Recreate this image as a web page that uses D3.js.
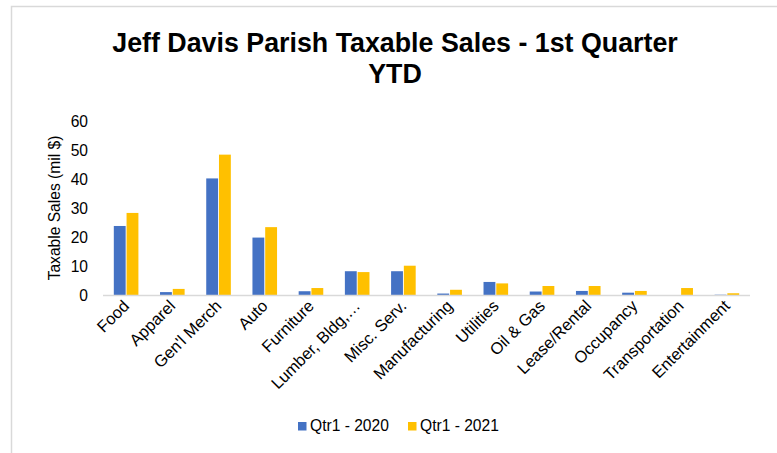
<!DOCTYPE html>
<html><head><meta charset="utf-8">
<script src="https://cdn.jsdelivr.net/npm/d3@7"></script>
<style>body{margin:0;background:#fff}svg{display:block;font-family:"Liberation Sans",Arial,sans-serif}</style>
</head><body>
<svg id="c" width="777" height="453"></svg>
<script>
const categories = ["Food","Apparel","Gen'l Merch","Auto","Furniture","Lumber, Bldg,…","Misc. Serv.","Manufacturing","Utilities","Oil & Gas","Lease/Rental","Occupancy","Transportation","Entertainment"];
const seriesNames = ["Qtr1 - 2020","Qtr1 - 2021"];
const q2020 = [23.8,1.0,40.2,19.8,1.3,8.2,8.2,0.5,4.5,1.2,1.4,0.8,0,0.1];
const q2021 = [28.3,2.1,48.4,23.4,2.4,7.9,10.1,1.8,4.0,3.1,3.1,1.4,2.4,0.6];
const yTicks = [0,10,20,30,40,50,60];
const colors = ["#4472C4","#FFC000"];
const titleLines = ["Jeff Davis Parish Taxable Sales - 1st Quarter","YTD"];
const yTitle = "Taxable Sales (mil $)";

const svg = d3.select("#c");
svg.append("rect").attr("x",11.5).attr("y",6.5).attr("width",820).attr("height",520)
  .attr("fill","#fff").attr("stroke","#d9d9d9").attr("stroke-width",1.5);

const x0 = d3.scaleBand().domain(categories).range([103,750]).paddingInner(0).paddingOuter(0);
const x1 = d3.scaleBand().domain(seriesNames).range([x0.bandwidth()/2-12.3, x0.bandwidth()/2+12.3]).paddingInner(0.07);
const y = d3.scaleLinear().domain([0,60]).range([295,121]);

// title
svg.append("text").attr("x",395).attr("text-anchor","middle").attr("font-weight","bold")
  .attr("font-size",26.8).attr("fill","#000")
  .selectAll("tspan").data(titleLines).join("tspan")
  .attr("x",395).attr("y",(d,i)=>52+i*30.5).text(d=>d);

// y axis
const yAxis = svg.append("g").attr("transform","translate(100,0)")
  .call(d3.axisLeft(y).tickValues(yTicks).tickSize(0).tickPadding(12));
yAxis.select(".domain").remove();
yAxis.selectAll("text").attr("font-size",15.6).attr("fill","#000").attr("font-family","Liberation Sans, Arial, sans-serif");

svg.append("text").attr("transform","translate(60,208) rotate(-90)").attr("text-anchor","middle")
  .attr("font-size",15.6).attr("fill","#000").text(yTitle);

// bars
const data = categories.map((c,i)=>({c, v:[q2020[i],q2021[i]]}));
const g = svg.append("g").selectAll("g").data(data).join("g")
  .attr("transform",d=>`translate(${x0(d.c)},0)`);
g.selectAll("rect").data(d=>d.v.map((v,j)=>({s:seriesNames[j],v,j}))).join("rect")
  .attr("x",d=>x1(d.s)).attr("width",x1.bandwidth())
  .attr("y",d=>y(d.v)).attr("height",d=>y(0)-y(d.v))
  .attr("fill",d=>colors[d.j]);

// baseline
svg.append("line").attr("x1",103).attr("x2",750).attr("y1",y(0)+0.5).attr("y2",y(0)+0.5)
  .attr("stroke","#d9d9d9").attr("stroke-width",1.5);

// x axis labels
const xAxis = svg.append("g").attr("transform",`translate(0,${y(0)})`)
  .call(d3.axisBottom(x0).tickSize(0).tickPadding(0));
xAxis.select(".domain").remove();
xAxis.selectAll("text").attr("font-size",16.4).attr("fill","#000")
  .attr("font-family","Liberation Sans, Arial, sans-serif")
  .attr("text-anchor","end").attr("dy",null).attr("y",0)
  .attr("transform","translate(4,12) rotate(-45)");

// legend
const leg = svg.append("g");
const lx = [298,408];
seriesNames.forEach((s,i)=>{
  leg.append("rect").attr("x",lx[i]).attr("y",422).attr("width",8.5).attr("height",8.5).attr("fill",colors[i]);
  leg.append("text").attr("x",lx[i]+12).attr("y",431).attr("font-size",15.6).attr("fill","#000").text(s);
});
</script>
</body></html>
